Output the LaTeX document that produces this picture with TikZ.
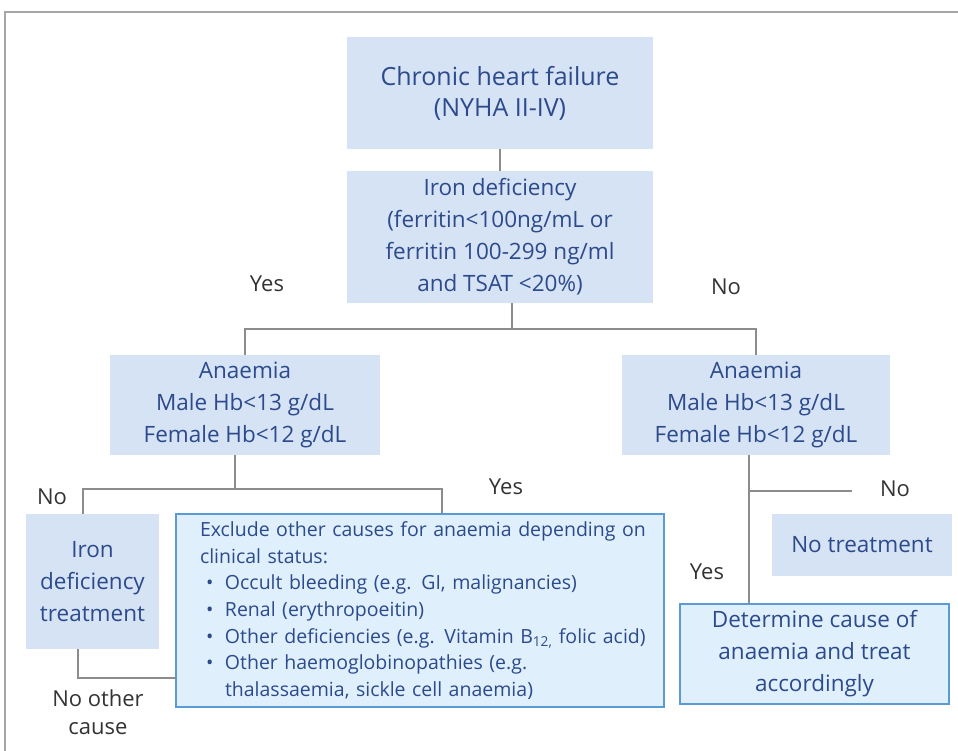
\documentclass[tikz,border=0pt]{standalone}
\usepackage{fontspec}
\setmainfont{Open Sans}
\definecolor{boxblue}{HTML}{D5E3F4}
\definecolor{noteblue}{HTML}{DFF0FC}
\definecolor{edgeblue}{HTML}{5A9BD6}
\definecolor{textblue}{HTML}{2C4A8C}
\definecolor{labelgray}{HTML}{333333}
\definecolor{linegray}{HTML}{8C8C8C}
\begin{document}
\begin{tikzpicture}[x=1pt, y=-1pt]
    % Define node styles
    \tikzstyle{stepbox} = [fill=boxblue, text=textblue, align=center, inner sep=0pt, font=\fontsize{22.5}{32}\selectfont]
    \tikzstyle{notebox} = [stepbox, fill=noteblue, draw=edgeblue, line width=1.2pt]
    \tikzstyle{answer} = [text=labelgray, align=center, font=\fontsize{22}{28}\selectfont]
    \tikzstyle{link} = [draw=linegray, line width=1.2pt]

    \useasboundingbox (0,0) rectangle (958,751);
    \draw[gray!70, line width=1.5pt] (5,751) -- (5,12) -- (958,12);

    % Nodes
    \node[stepbox, minimum width=306pt, minimum height=112pt, font=\fontsize{25}{31}\selectfont] (chf) at (500,93) {Chronic heart failure\\(NYHA II-IV)};
    \node[stepbox, minimum width=306pt, minimum height=132pt] (irondef) at (500,237) {Iron deficiency\\(ferritin<100ng/mL or\\ferritin 100-299 ng/ml\\and TSAT <20\%)};
    \node[stepbox, minimum width=270pt, minimum height=100pt] (anL) at (245,405) {Anaemia\\Male Hb<13 g/dL\\Female Hb<12 g/dL};
    \node[stepbox, minimum width=268pt, minimum height=100pt] (anR) at (756,405) {Anaemia\\Male Hb<13 g/dL\\Female Hb<12 g/dL};
    \node[stepbox, minimum width=133pt, minimum height=135pt] (treat) at (92.5,581.5) {Iron\\deficiency\\treatment};
    \node[notebox, text width=464pt, inner xsep=12pt, minimum height=193pt, align=left, font=\fontsize{19.5}{26.7}\selectfont] (excl) at (420,610.5) {\leftskip=12pt
        Exclude other causes for anaemia depending on\\
        clinical status:\\
        \hspace*{6pt}\makebox[19pt][l]{\textbullet}Occult bleeding (e.g. GI, malignancies)\\
        \hspace*{6pt}\makebox[19pt][l]{\textbullet}Renal (erythropoeitin)\\
        \hspace*{6pt}\makebox[19pt][l]{\textbullet}Other deficiencies (e.g. Vitamin B\textsubscript{12,} folic acid)\\
        \hspace*{6pt}\makebox[19pt][l]{\textbullet}Other haemoglobinopathies (e.g.\\
        \hspace*{25pt}thalassaemia, sickle cell anaemia)\par};
    \node[stepbox, minimum width=180pt, minimum height=62pt] (notreat) at (862,545) {No treatment};
    \node[notebox, minimum width=269pt, minimum height=100pt] (det) at (814.5,654) {Determine cause of\\anaemia and treat\\accordingly};

    % Labels
    \node[answer] (yes1) at (267,284) {Yes};
    \node[answer] (no1) at (726,287) {No};
    \node[answer] (no2) at (52,497) {No};
    \node[answer] (yes2) at (506,487) {Yes};
    \node[answer] (no3) at (895,489) {No};
    \node[answer] (yes3) at (707,572) {Yes};
    \node[answer] (noother) at (98,712) {No other\\cause};

    % Edges
    \coordinate (split1) at (512,329);
    \coordinate (split2) at (235,489);
    \coordinate (split3) at (749,491);
    \coordinate (nobranch) at (852,491);
    \coordinate (otherin) at (176,678);
    \draw[link] (chf.south) -- (irondef.north);
    \draw[link] (irondef.south -| split1) -- (split1);
    \draw[link] (anL.north) |- (anR.north |- split1) -- (anR.north);
    \draw[link] (anL.south -| split2) -- (split2);
    \draw[link] ([xshift=-9.5pt]treat.north) |- ([xshift=22pt]excl.north |- split2) -- ([xshift=22pt]excl.north);
    \draw[link] ([xshift=-14.5pt]treat.south) |- (otherin);
    \draw[link] ([xshift=-7pt]anR.south) -- (split3 |- det.north);
    \draw[link] (split3) -- (nobranch);
\end{tikzpicture}
\end{document}
